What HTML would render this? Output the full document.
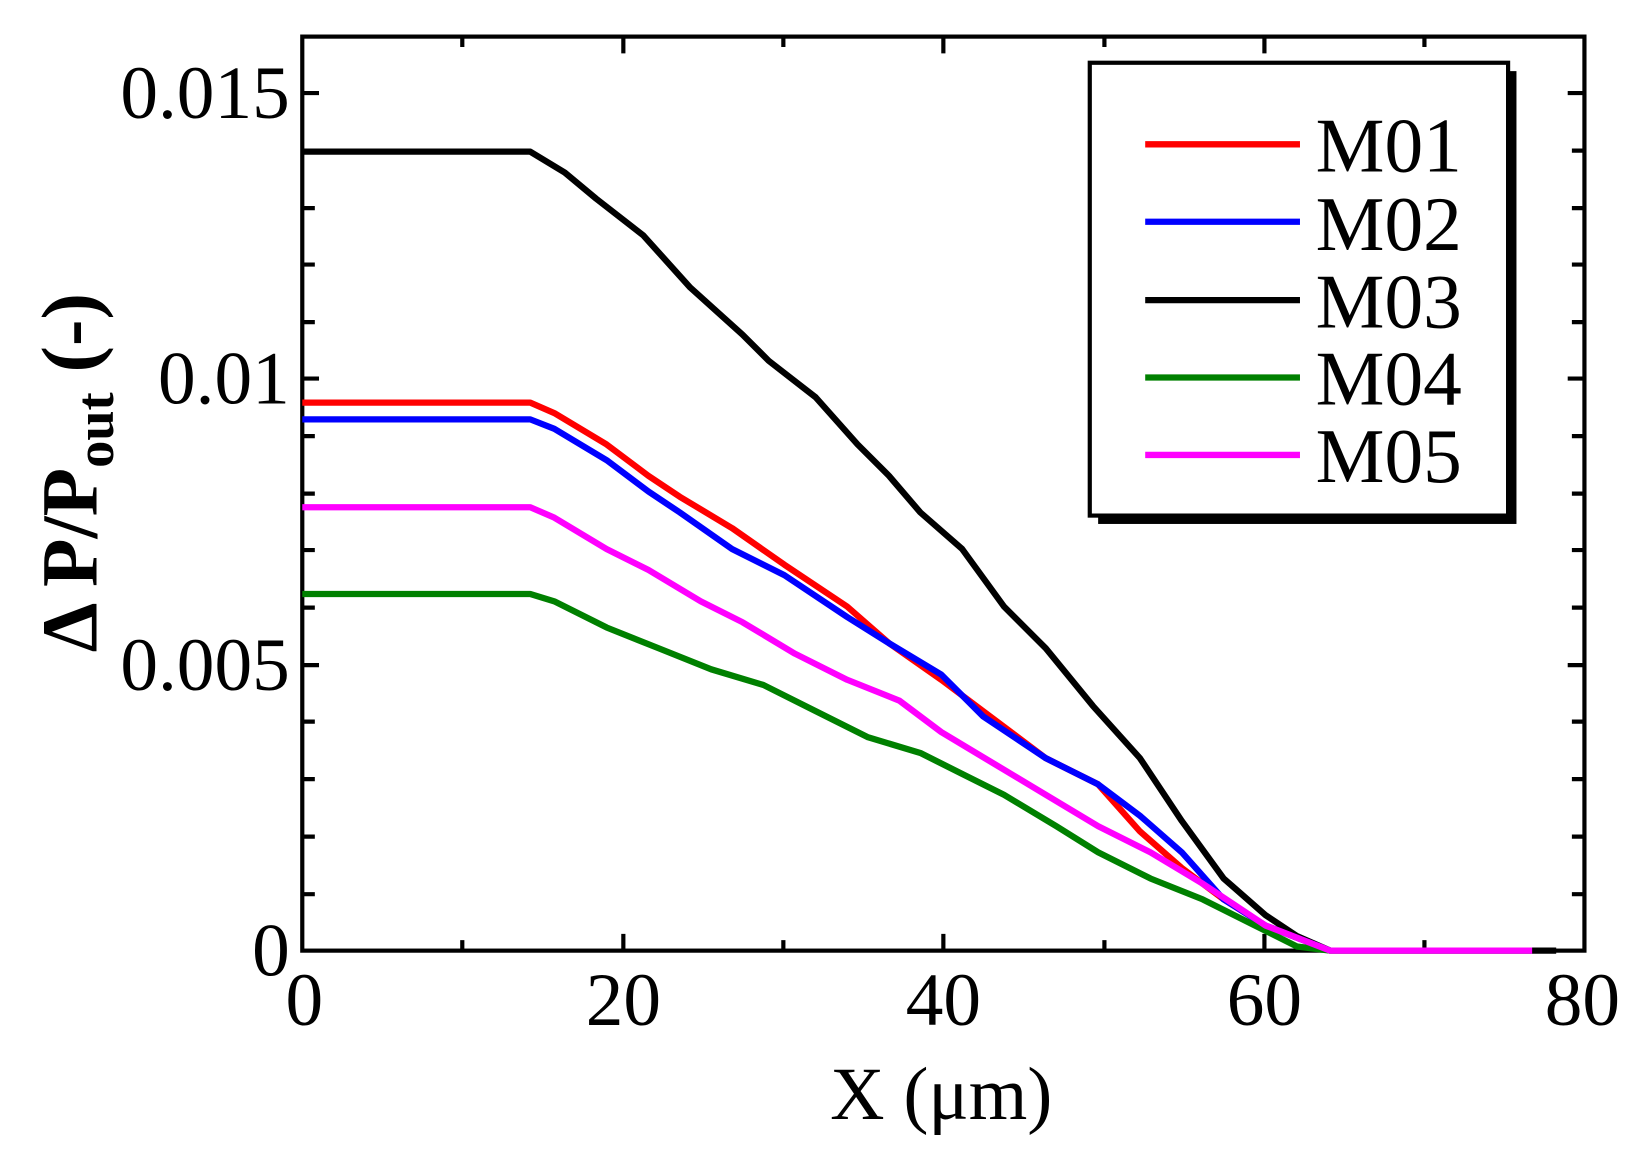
<!DOCTYPE html>
<html><head><meta charset="utf-8"><style>html,body{margin:0;padding:0;background:#fff}svg{display:block}</style></head>
<body>
<svg width="1642" height="1153" viewBox="0 0 1570 1102.5" xmlns="http://www.w3.org/2000/svg" font-family="Liberation Serif, serif">
<rect width="1570" height="1102.5" fill="#fff"/>
<g stroke="#000" stroke-width="4" fill="none">
<rect x="289" y="35" width="1226" height="874"/>
<path d="M289 89h16M289 362h16M289 636h16M1515 89h-16M1515 362h-16M1515 636h-16"/>
<path d="M289 144h12M289 199h12M289 253h12M289 308h12M289 417h12M289 472h12M289 526h12M289 581h12M289 690h12M289 745h12M289 800h12M289 855h12
M1515 144h-12M1515 199h-12M1515 253h-12M1515 308h-12M1515 417h-12M1515 472h-12M1515 526h-12M1515 581h-12M1515 690h-12M1515 745h-12M1515 800h-12M1515 855h-12"/>
<path d="M596 909v-16M902 909v-16M1209 909v-16M596 35v16M902 35v16M1209 35v16
M442 909v-10M749 909v-10M1056 909v-10M1362 909v-10M442 35v10M749 35v10M1056 35v10M1362 35v10"/>
</g>
<g fill="none" stroke-width="6" stroke-linejoin="round">
<polyline stroke="#000" points="289,145 507,145 540,165 570,190 615,225 660,275 710,320 735,345 780,380 820,425 850,455 880,490 920,525 960,580 1000,620 1045,675 1090,725 1130,785 1170,840 1210,875 1240,895 1272,909 1488,909"/>
<polyline stroke="#ff0000" points="289,385 507,385 530,395 580,425 620,455 650,475 700,505 750,540 810,580 850,615 900,650 940,680 1000,725 1050,750 1090,795 1130,830 1170,860 1210,885 1272,909"/>
<polyline stroke="#0000ff" points="289,401 507,401 530,410 580,440 620,470 650,490 700,525 750,550 810,590 850,615 900,645 940,685 1000,725 1050,750 1090,780 1130,815 1170,860 1210,885 1272,909"/>
<polyline stroke="#008000" points="289,568 507,568 530,575 580,600 630,620 680,640 730,655 780,680 830,705 880,720 920,740 960,760 1010,790 1050,815 1100,840 1150,860 1200,885 1240,905 1272,909"/>
<polyline stroke="#ff00ff" points="289,485 507,485 530,495 580,525 620,545 670,575 710,595 760,625 810,650 860,670 900,700 950,730 1000,760 1050,790 1100,815 1150,845 1210,885 1272,909 1465,909"/>
</g>
<rect x="1050" y="68" width="400" height="433" fill="#000"/>
<rect x="1042" y="60" width="400" height="433" fill="#fff" stroke="#000" stroke-width="4"/>
<g stroke-width="6">
<line x1="1095" y1="138" x2="1243" y2="138" stroke="#ff0000"/>
<line x1="1095" y1="212" x2="1243" y2="212" stroke="#0000ff"/>
<line x1="1095" y1="287" x2="1243" y2="287" stroke="#000"/>
<line x1="1095" y1="361" x2="1243" y2="361" stroke="#008000"/>
<line x1="1095" y1="435" x2="1243" y2="435" stroke="#ff00ff"/>
</g>
<g font-size="74" fill="#000">
<text x="1258" y="164">M01</text>
<text x="1258" y="239">M02</text>
<text x="1258" y="313">M03</text>
<text x="1258" y="387">M04</text>
<text x="1258" y="461">M05</text>
</g>
<g font-size="72" fill="#000" text-anchor="end">
<text x="277" y="113">0.015</text>
<text x="277" y="386">0.01</text>
<text x="277" y="660">0.005</text>
<text x="277" y="933">0</text>
</g>
<g font-size="72" fill="#000" text-anchor="middle">
<text x="291" y="980">0</text>
<text x="596" y="980">20</text>
<text x="902" y="980">40</text>
<text x="1209" y="980">60</text>
<text x="1513" y="980">80</text>
<text x="900" y="1070">X (μm)</text>
</g>
<text transform="translate(92,452) rotate(-90)" font-size="76" font-weight="bold" text-anchor="middle" fill="#000">Δ P/P<tspan font-size="52" dy="16">out</tspan><tspan dy="-16"> (-)</tspan></text>
</svg>
</body></html>
